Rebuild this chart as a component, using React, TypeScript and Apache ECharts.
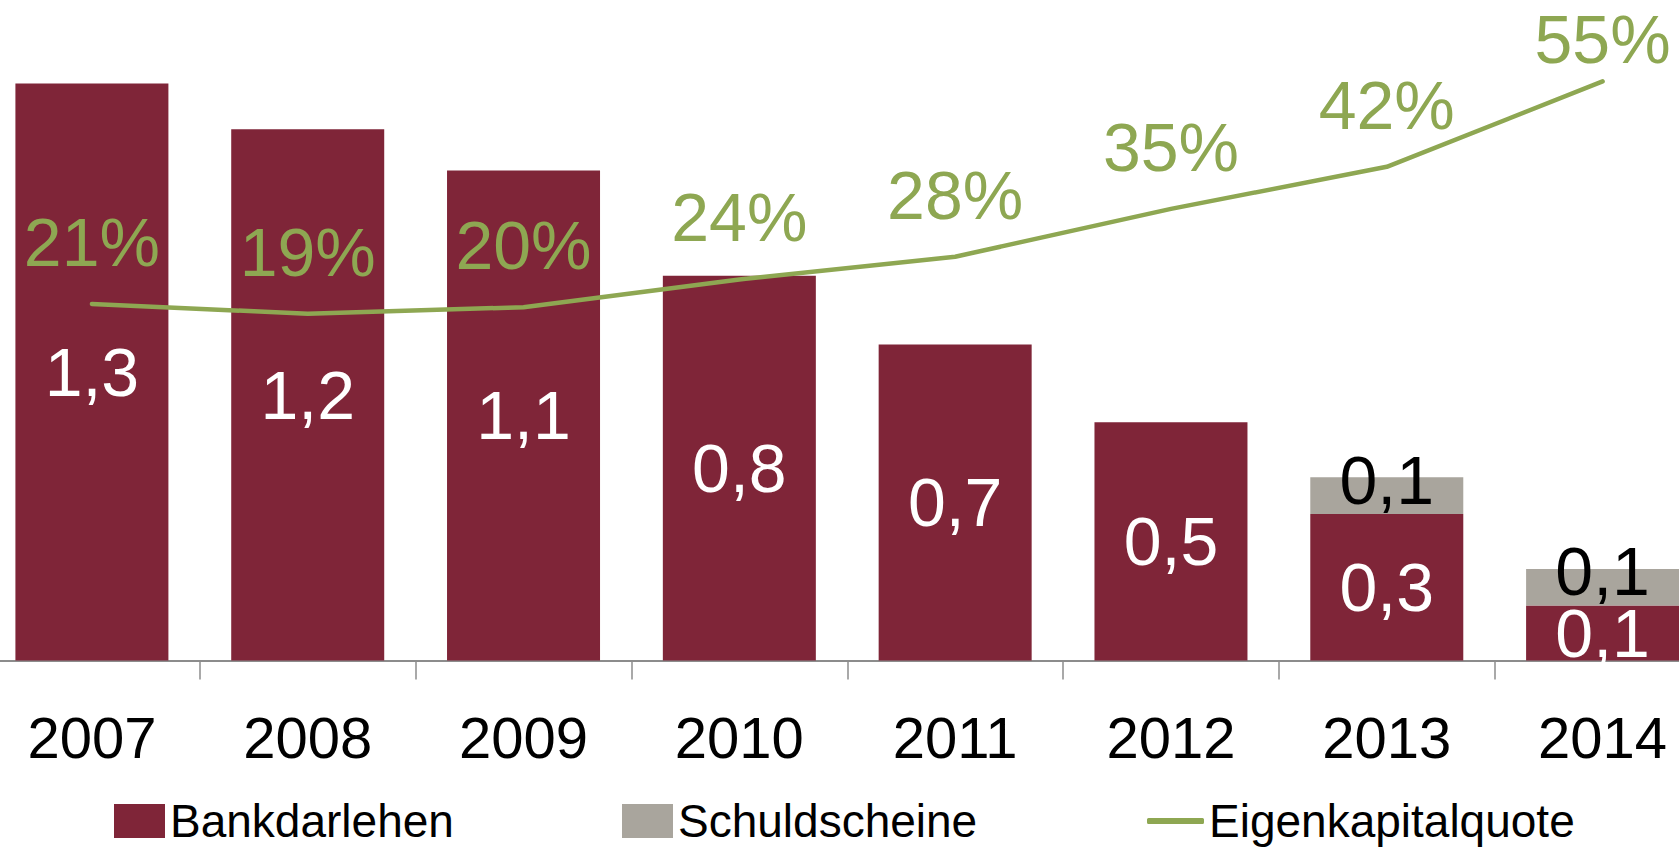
import React, { useEffect, useRef } from "react";
import * as echarts from "echarts";

const years: string[] = ["2007", "2008", "2009", "2010", "2011", "2012", "2013", "2014"];
const bankdarlehen: number[] = [1.26, 1.16, 1.07, 0.84, 0.69, 0.52, 0.32, 0.12];
const schuldscheine: (number | null)[] = [null, null, null, null, null, null, 0.08, 0.08];
const eigenkapitalquote: number[] = [20.6, 19.1, 20.1, 24.4, 27.9, 35.3, 41.8, 55.0];

const seriesNames = ["Bankdarlehen", "Schuldscheine", "Eigenkapitalquote"];

const MAROON = "#7f2538";
const GRAY = "#a9a59d";
const GREEN = "#8ea752";
const FONT = "'Liberation Sans', Arial, sans-serif";

// the chart canvas starts left of the page edge (the reference is cropped)
const SHIFT = 16;

const fmtComma = (v: number) => v.toFixed(1).replace(".", ",");

export default function App() {
  const ref = useRef<HTMLDivElement>(null);

  useEffect(() => {
    if (!ref.current) return;
    const chart = echarts.init(ref.current, undefined, { renderer: "svg" });

    const legendBase = {
      orient: "horizontal" as const,
      top: 798,
      padding: 0,
      selectedMode: false,
      textStyle: { fontSize: 46, lineHeight: 46, color: "#000", fontFamily: FONT },
      itemGap: 0,
    };

    const option: any = {
      animation: false,
      backgroundColor: "#fff",
      textStyle: { fontFamily: FONT },
      grid: { left: 0, right: 0.5, top: 20, bottom: 188.5, containLabel: false },
      legend: [
        { ...legendBase, left: 114 + SHIFT, data: [seriesNames[0]], itemWidth: 51, itemHeight: 34, icon: "rect" },
        { ...legendBase, left: 622 + SHIFT, data: [seriesNames[1]], itemWidth: 51, itemHeight: 34, icon: "rect" },
        {
          ...legendBase,
          left: 1147 + SHIFT,
          data: [seriesNames[2]],
          itemWidth: 57,
          itemHeight: 6,
          icon: "roundRect",
          itemStyle: { color: GREEN, opacity: 1 },
        },
      ],
      xAxis: {
        type: "category",
        data: years,
        boundaryGap: true,
        axisLine: { show: true, lineStyle: { color: "#8c8c8c", width: 2 } },
        axisTick: { show: true, length: 19, lineStyle: { color: "#8c8c8c", width: 1.5 } },
        axisLabel: { fontSize: 58, color: "#000", margin: 48, fontFamily: FONT },
        splitLine: { show: false },
      },
      yAxis: [
        { type: "value", min: 0, max: 1.3985, show: false, splitLine: { show: false } },
        { type: "value", min: -34.5, max: 64.49, show: false, splitLine: { show: false } },
      ],
      series: [
        {
          name: seriesNames[0],
          type: "bar",
          stack: "debt",
          data: bankdarlehen,
          barWidth: 153,
          itemStyle: { color: MAROON },
          label: {
            show: true,
            position: "inside",
            color: "#fff",
            fontSize: 68,
            fontFamily: FONT,
            formatter: (p: any) => fmtComma(p.value),
          },
        },
        {
          name: seriesNames[1],
          type: "bar",
          stack: "debt",
          data: schuldscheine,
          barWidth: 153,
          itemStyle: { color: GRAY },
          label: {
            show: true,
            position: "inside",
            offset: [0, -16],
            color: "#000",
            fontSize: 68,
            fontFamily: FONT,
            formatter: (p: any) => (p.value == null ? "" : fmtComma(p.value)),
          },
        },
        {
          name: seriesNames[2],
          type: "line",
          yAxisIndex: 1,
          data: eigenkapitalquote.map((v, i) =>
            i === eigenkapitalquote.length - 1 ? { value: v, label: { distance: 8 } } : v
          ),
          showSymbol: true,
          symbol: "circle",
          symbolSize: 0.01,
          lineStyle: { color: GREEN, width: 4.5, cap: "round" },
          itemStyle: { color: GREEN },
          label: {
            show: true,
            position: "top",
            distance: 28,
            color: GREEN,
            fontSize: 68,
            fontFamily: FONT,
            formatter: (p: any) => Math.round(p.value) + "%",
          },
          labelLayout: { hideOverlap: false },
          z: 5,
        },
      ],
    };

    chart.setOption(option);
    return () => chart.dispose();
  }, []);

  return (
    <div
      ref={ref}
      style={{
        position: "fixed",
        left: `-${SHIFT}px`,
        top: 0,
        width: `${1679 + SHIFT + 32}px`,
        height: "849px",
        background: "#fff",
      }}
    />
  );
}
